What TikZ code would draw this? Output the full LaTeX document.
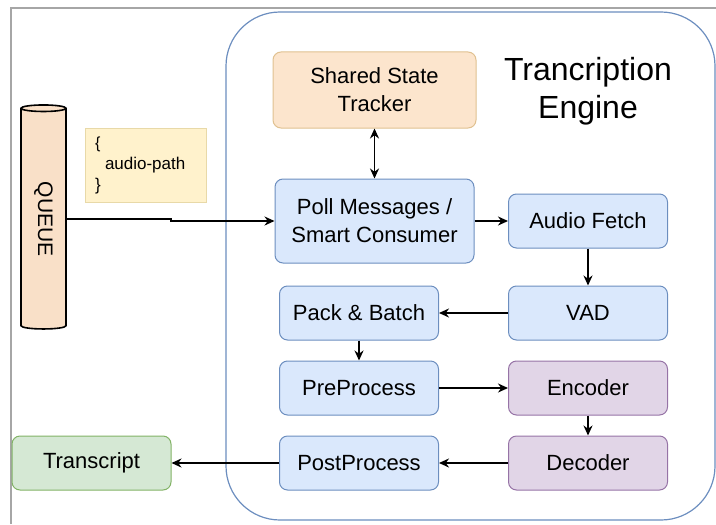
\documentclass[tikz,border=0pt]{standalone}
\usepackage{fontspec}
\setmainfont{Liberation Sans}
\usepackage{tikz}
\usetikzlibrary{shapes.geometric, arrows.meta, positioning}
\definecolor{stepblue}{HTML}{DAE8FC}
\definecolor{stepblueline}{HTML}{6C8EBF}
\definecolor{modelpurple}{HTML}{E1D5E7}
\definecolor{modelpurpleline}{HTML}{9673A6}
\definecolor{stateorange}{HTML}{FCE5CD}
\definecolor{stateorangeline}{HTML}{E0C190}
\definecolor{outgreen}{HTML}{D5E8D4}
\definecolor{outgreenline}{HTML}{82B366}
\definecolor{notefill}{HTML}{FFF2CC}
\definecolor{noteline}{HTML}{E8D9A8}
\definecolor{queuefill}{HTML}{F9E0C8}

\begin{document}
\begin{tikzpicture}[
    x=0.5pt, y=-0.5pt,
    stage/.style={
        rectangle, rounded corners=4pt, minimum width=79.5pt, minimum height=27pt,
        draw=#1line, fill=#1, line width=0.5pt, align=center,
        font=\fontsize{11}{14}\selectfont, inner sep=2pt
    },
    queuebox/.style={
        cylinder, shape border rotate=90, draw=black, fill=queuefill, line width=0.8pt,
        minimum width=22.5pt, minimum height=112pt, aspect=0.35,
        font=\fontsize{10.5}{13}\selectfont, inner sep=0pt
    },
    notebox/.style={
        rectangle, draw=noteline, fill=notefill, line width=0.5pt,
        text width=50.5pt, inner xsep=5pt, minimum height=37pt, align=left,
        font=\fontsize{8}{9.5}\selectfont
    },
    arr/.style={-{Stealth[length=5pt, width=4.5pt]}, line width=0.8pt, black},
    biarr/.style={{Stealth[length=5pt, width=4.5pt]}-{Stealth[length=5pt, width=4.5pt]}, line width=0.8pt, black}
]
\useasboundingbox (0,0) rectangle (716,524);

% Screenshot frame
\draw[gray!70, line width=0.6pt] (11,524) -- (11,8) -- (716,8);

% Engine container
\draw[stepblueline, line width=0.6pt, rounded corners=27pt] (226,12) rectangle (715,520);
\node[font=\fontsize{16}{19}\selectfont, align=center] (title) at (588,91) {Trancription\\Engine};

% Input side
\node[queuebox] (queue) at (43.5,219) {\rotatebox{-90}{QUEUE}};
\node[notebox] (payload) at (145.5,165) {\{\\[1pt]\hspace{5pt}\fontsize{8.5}{9.5}\selectfont audio-path\\[1pt]\}};

% Engine stages
\node[stage=stateorange, minimum width=101.5pt, minimum height=38pt] (tracker) at (374.5,90) {Shared State\\Tracker};
\node[stage=stepblue, minimum width=99.5pt, minimum height=42pt] (poll) at (374.5,221) {Poll Messages /\\Smart Consumer};
\node[stage=stepblue] (fetch) at (588,221) {Audio Fetch};
\node[stage=stepblue] (vad) at (588,313) {VAD};
\node[stage=stepblue] (pack) at (359,313) {Pack \& Batch};
\node[stage=stepblue] (pre) at (359,388) {PreProcess};
\node[stage=modelpurple] (enc) at (588,388) {Encoder};
\node[stage=modelpurple] (dec) at (588,463) {Decoder};
\node[stage=stepblue] (post) at (359,463) {PostProcess};

% Output
\node[stage=outgreen] (transcript) at (91.5,463) {Transcript};

% Connectors
\draw[arr] (queue.east) -- ++(104,0) |- (poll.west);
\draw[biarr] (tracker) -- (poll);
\draw[arr] (poll) -- (fetch);
\draw[arr] (fetch) -- (vad);
\draw[arr] (vad) -- (pack);
\draw[arr] (pack) -- (pre);
\draw[arr] (pre) -- (enc);
\draw[arr] (enc) -- (dec);
\draw[arr] (dec) -- (post);
\draw[arr] (post) -- (transcript);

\end{tikzpicture}
\end{document}
